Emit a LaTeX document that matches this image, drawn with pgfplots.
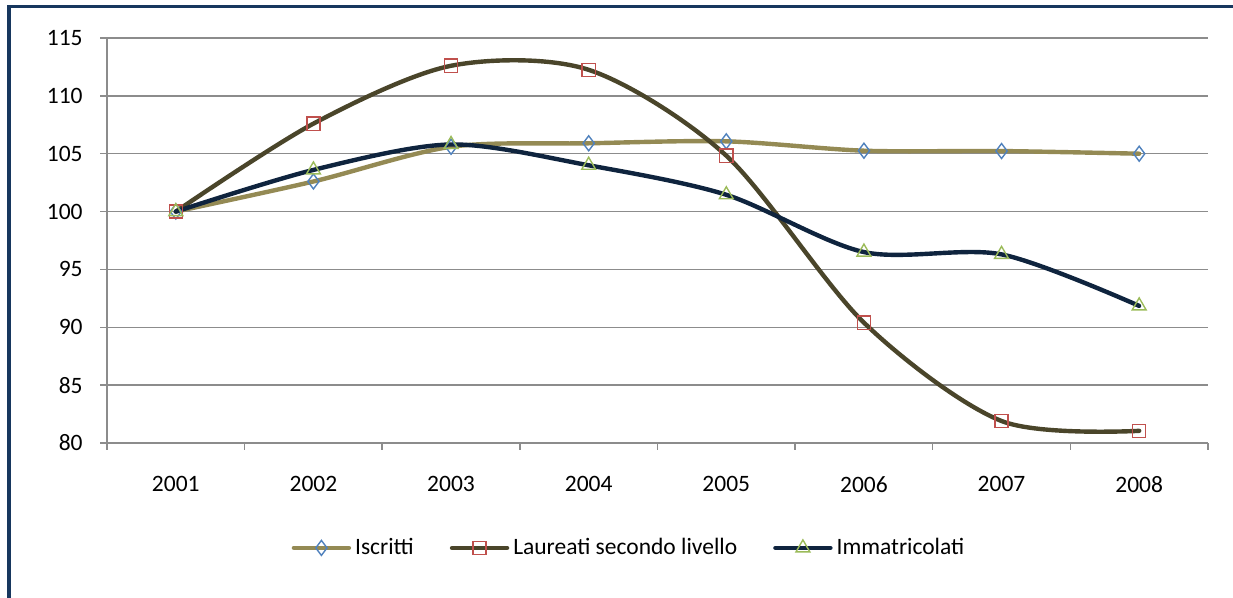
\documentclass[border=0pt]{standalone}
\usepackage{pgfplots}
\pgfplotsset{compat=1.18}
\usepackage{fontspec}
\setmainfont{Carlito}

\definecolor{frame}{HTML}{17375E}
\definecolor{gridc}{HTML}{8C8C8C}
\definecolor{iscr}{HTML}{948A54}
\definecolor{laur}{HTML}{4A452A}
\definecolor{imma}{HTML}{0F243E}
\definecolor{mblue}{HTML}{4F81BD}
\definecolor{mred}{HTML}{C0504D}
\definecolor{mgreen}{HTML}{9BBB59}

\begin{document}
\begin{tikzpicture}
% page = 1233 x 598 px, 1 px = 0.5pt
\useasboundingbox (0,0) rectangle (616.5pt,-299pt);
\draw[color=frame, line width=1.75pt] (4.5pt,-330pt) -- (4.5pt,-3.25pt) -- (650pt,-3.25pt);

\begin{axis}[
  at={(53.5pt,-221.5pt)}, anchor=south west,
  scale only axis, width=550.5pt, height=202.5pt,
  xmin=0.5, xmax=8.5, ymin=80, ymax=115,
  xtick={1,...,8}, xticklabels={2001,2002,2003,2004,2005,2006,2007,2008},
  minor xtick={0.5,1.5,...,8.5},
  ytick={80,85,...,115},
  axis x line*=bottom, axis y line*=left,
  tick align=outside,
  major tick length=3.5pt, minor tick length=3.5pt,
  major x tick style={draw=none},
  ymajorgrids, grid style={color=gridc, line width=0.75pt},
  axis line style={color=gridc, line width=0.75pt},
  tick style={color=gridc, line width=0.75pt},
  tick label style={font=\fontsize{11.75}{14}\selectfont, text=black},
  /pgf/number format/assume math mode=true,
  yticklabel style={inner sep=0pt, xshift=-8.5pt},
  xticklabel style={inner sep=0pt, yshift=-13pt},
  legend style={at={(0.475,-0.259)}, anchor=center, draw=none,
    font=\fontsize{11.75}{14}\selectfont, legend columns=3,
    /tikz/every even column/.append style={column sep=16pt}},
  legend cell align=left,
  legend image code/.code={\draw[#1, mark repeat=2, mark phase=2]
    plot coordinates {(0pt,0pt) (13.75pt,0pt) (27.5pt,0pt)};},
  every axis plot/.append style={line width=2.2pt, line cap=round, smooth},
]
% Iscritti
\addplot[color=iscr, mark=diamond, mark size=3.75pt,
  mark options={draw=mblue, fill=none, line width=0.7pt}] coordinates {
  (1,100) (2,102.6) (3,105.6) (4,105.9) (5,106.07) (6,105.26) (7,105.23) (8,105.0)
};
\addlegendentry{Iscritti}
% Laureati secondo livello
\addplot[color=laur, mark=square, mark size=3.3pt,
  mark options={draw=mred, fill=none, line width=0.7pt}] coordinates {
  (1,100) (2,107.6) (3,112.6) (4,112.25) (5,104.83) (6,90.4) (7,81.9) (8,81.05)
};
\addlegendentry{Laureati secondo livello}
% Immatricolati
\addplot[color=imma, mark=triangle, mark size=4pt,
  mark options={draw=mgreen, fill=none, line width=0.7pt}] coordinates {
  (1,100) (2,103.6) (3,105.8) (4,104.0) (5,101.45) (6,96.5) (7,96.3) (8,91.85)
};
\addlegendentry{Immatricolati}
\end{axis}
\end{tikzpicture}
\end{document}
